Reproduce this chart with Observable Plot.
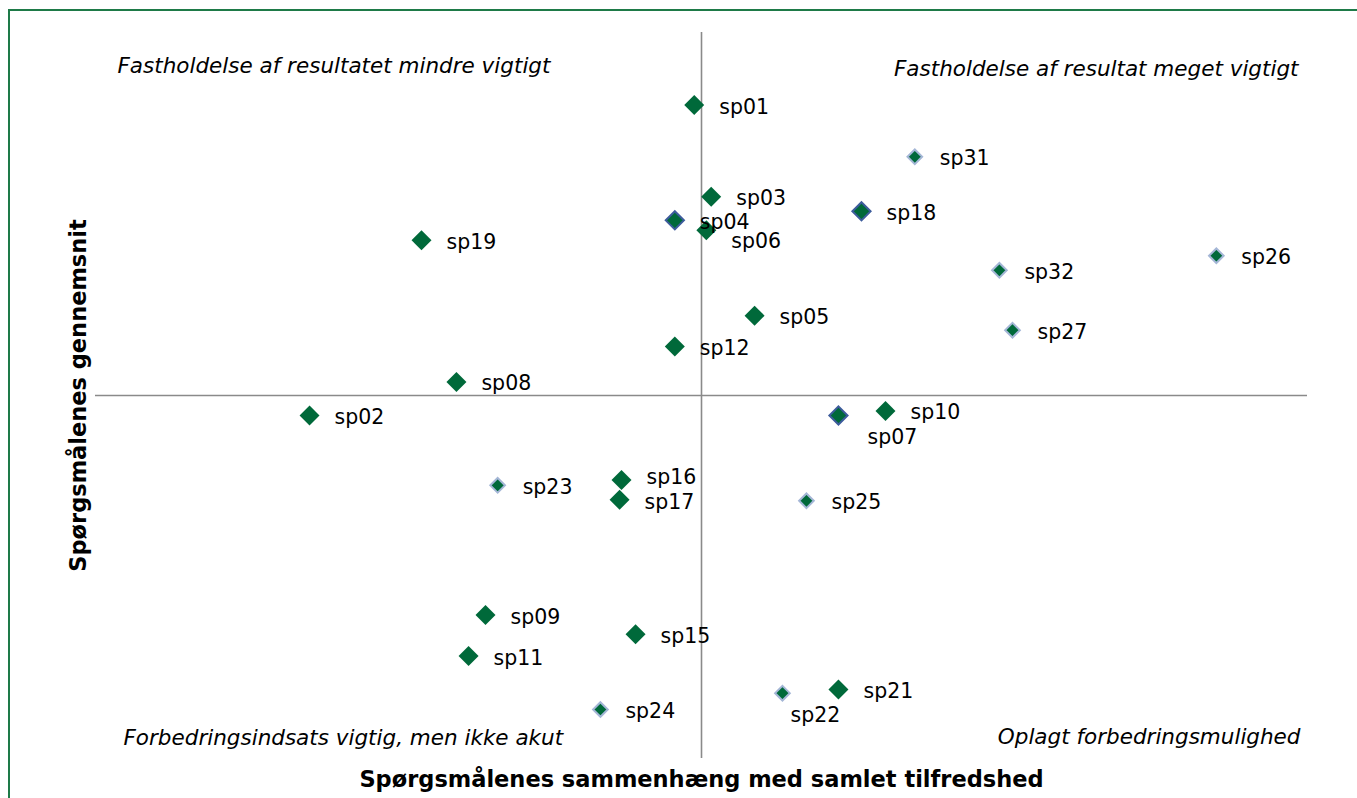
<!DOCTYPE html>
<html>
<head>
<meta charset="utf-8">
<script src="https://cdn.jsdelivr.net/npm/d3@7"></script>
<script src="https://cdn.jsdelivr.net/npm/@observablehq/plot@0.6"></script>
<style>
  html, body { margin: 0; padding: 0; background: #fff; overflow: hidden; }
  #wrap { position: relative; width: 1357px; height: 798px; }
  #border { position: absolute; left: 8px; top: 9px; width: 1400px; height: 900px;
            border: 2px solid #1e7a48; box-sizing: border-box; pointer-events: none; }
  #chart { position: absolute; left: 0; top: 0; }
</style>
</head>
<body>
<div id="wrap"><div id="border"></div><div id="chart"></div></div>
<script>
// Questions (labels), correlation with overall satisfaction (x), average (y), marker group
const names = ["sp01","sp31","sp03","sp18","sp04","sp06","sp19","sp26","sp32","sp05","sp27","sp12","sp08","sp02","sp07","sp10","sp16","sp23","sp17","sp25","sp09","sp15","sp11","sp21","sp22","sp24"];
const correlation = [0.547,0.638,0.554,0.616,0.539,0.552,0.4345,0.7624,0.6729,0.5719,0.6783,0.539,0.4489,0.3883,0.6065,0.6259,0.517,0.4659,0.5162,0.5933,0.4609,0.5228,0.4539,0.6065,0.5834,0.5083];
const average = [4.320,4.263,4.219,4.203,4.193,4.182,4.171,4.154,4.138,4.088,4.072,4.054,4.015,3.978,3.978,3.983,3.907,3.901,3.885,3.884,3.758,3.737,3.713,3.676,3.672,3.654];
const group = ["A","C","A","B","B","A","A","C","C","A","C","A","A","A","B","A","A","C","A","C","A","A","A","A","C","C"];
const xCross = 0.55;
const yCross = 4.0;
const xTitle = "Spørgsmålenes sammenhæng med samlet tilfredshed";
const yTitle = "Spørgsmålenes gennemsnit";
const quadrantTL = "Fastholdelse af resultatet mindre vigtigt";
const quadrantTR = "Fastholdelse af resultat meget vigtigt";
const quadrantBL = "Forbedringsindsats vigtig, men ikke akut";
const quadrantBR = "Oplagt forbedringsmulighed";

const data = names.map((n, i) => ({name: n, x: correlation[i], y: average[i], g: group[i]}));

// label placement styling (Excel-like): [dx, dy, anchor]
const placement = {
  sp07: [54, 22, "middle"],
  sp22: [33, 22, "middle"],
  sp06: [25, 11, "start"],
  sp16: [25, -2, "start"],
  sp17: [25, 3, "start"]
};
const font = "DejaVu Sans, Verdana, sans-serif";
const green = "#00693a";
const labelSize = 20.5;
const cornerSize = 21.5;

const plot = Plot.plot({
  width: 1357,
  height: 798,
  marginLeft: 95,
  marginRight: 50,
  marginTop: 32,
  marginBottom: 40,
  style: {fontFamily: font, background: "transparent"},
  x: {domain: [0.30, 0.80], axis: null},
  y: {domain: [3.6, 4.4], axis: null},
  marks: [
    Plot.ruleX([xCross], {stroke: "#8a8a8a", strokeWidth: 1.6}),
    Plot.ruleY([yCross], {stroke: "#8a8a8a", strokeWidth: 1.6}),
    Plot.dot(data.filter(d => d.g === "C"), {x: "x", y: "y", symbol: "diamond2", r: 6.6, fill: green, stroke: "#a4b6d6", strokeWidth: 2}),
    Plot.dot(data.filter(d => d.g === "B"), {x: "x", y: "y", symbol: "diamond2", r: 8.2, fill: green, stroke: "#3d5c9c", strokeWidth: 2}),
    Plot.dot(data.filter(d => d.g === "A"), {x: "x", y: "y", symbol: "diamond2", r: 9, fill: green}),
    Plot.text(data.filter(d => !placement[d.name]), {x: "x", y: "y", text: "name", dx: 25, dy: 2, textAnchor: "start", fontSize: labelSize, fill: "#000"}),
    ...Object.keys(placement).map(k => Plot.text(data.filter(d => d.name === k), {x: "x", y: "y", text: "name", dx: placement[k][0], dy: placement[k][1], textAnchor: placement[k][2], fontSize: labelSize, fill: "#000"})),
    Plot.text([quadrantTL], {frameAnchor: "top-left", dx: 22, dy: 34, lineAnchor: "middle", fontStyle: "italic", fontSize: cornerSize, fill: "#000"}),
    Plot.text([quadrantTR], {frameAnchor: "top-right", dx: -9, dy: 37, lineAnchor: "middle", fontStyle: "italic", fontSize: cornerSize, fill: "#000"}),
    Plot.text([quadrantBL], {frameAnchor: "bottom-left", dx: 28, dy: -20, lineAnchor: "middle", fontStyle: "italic", fontSize: cornerSize, fill: "#000"}),
    Plot.text([quadrantBR], {frameAnchor: "bottom-right", dx: -7, dy: -21, lineAnchor: "middle", fontStyle: "italic", fontSize: cornerSize, fill: "#000"}),
    Plot.text([xTitle], {frameAnchor: "bottom", dy: 21, lineAnchor: "middle", fontWeight: "bold", fontSize: 22.5, fill: "#000"}),
    Plot.text([yTitle], {frameAnchor: "left", dx: -17, textAnchor: "middle", lineAnchor: "middle", rotate: -90, fontWeight: "bold", fontSize: 22.5, fill: "#000"})
  ]
});
document.getElementById("chart").appendChild(plot);
</script>
</body>
</html>
